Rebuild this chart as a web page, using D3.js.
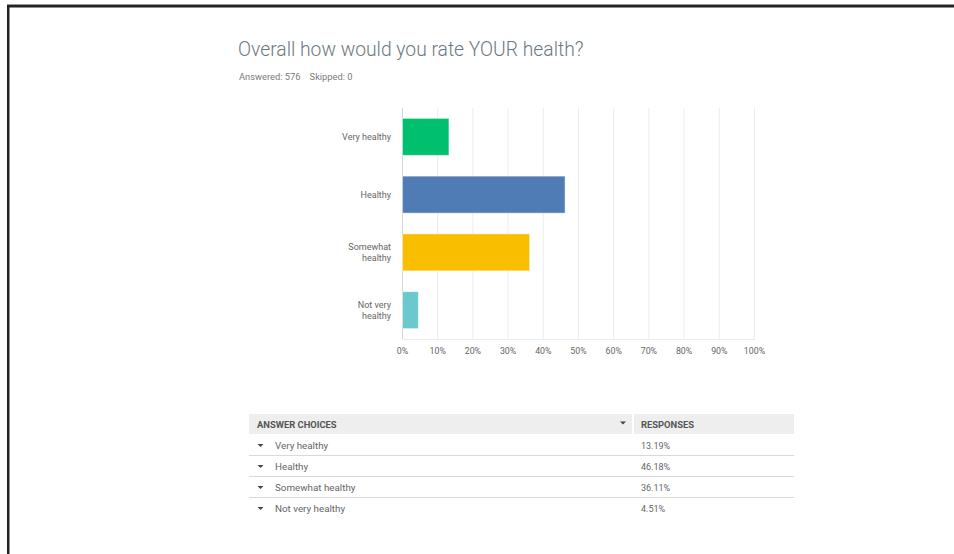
<!DOCTYPE html>
<html>
<head>
<meta charset="utf-8">
<script src="https://cdn.jsdelivr.net/npm/d3@7"></script>
<style>
  html, body { margin: 0; padding: 0; background: #fff; }
  svg { display: block; font-family: Roboto, "Open Sans", sans-serif; }
</style>
</head>
<body>
<svg id="chart" width="954" height="554"></svg>
<script>
// Survey answers and their response shares (%)
const categories = ["Very healthy", "Healthy", "Somewhat healthy", "Not very healthy"];
const axisLabels = [["Very healthy"], ["Healthy"], ["Somewhat", "healthy"], ["Not very", "healthy"]];
const responses = [13.19, 46.18, 36.11, 4.51];
const responseLabels = ["13.19%", "46.18%", "36.11%", "4.51%"];
const barColors = ["#00bf6f", "#507cb6", "#f9be00", "#6bc8cd"];
const ticks = [0, 10, 20, 30, 40, 50, 60, 70, 80, 90, 100];

const svg = d3.select("#chart");

// page frame
svg.append("rect").attr("x", 0).attr("y", 0).attr("width", 954).attr("height", 554).attr("fill", "#fff");
svg.append("rect").attr("x", 7).attr("y", 4).attr("width", 947).attr("height", 1).attr("fill", "#999");
svg.append("rect").attr("x", 7).attr("y", 5).attr("width", 947).attr("height", 2.5).attr("fill", "#222");
svg.append("rect").attr("x", 7).attr("y", 5).attr("width", 2.5).attr("height", 549).attr("fill", "#222");

// heading
svg.append("text").attr("x", 238).attr("y", 56)
  .attr("font-size", 19.3).attr("font-weight", 300).attr("fill", "#6b787f")
  .text("Overall how would you rate YOUR health?");
svg.append("text").attr("x", 239).attr("y", 80)
  .attr("font-size", 9.3).attr("fill", "#7a7a7a")
  .text("Answered: 576\u00a0\u00a0\u00a0\u00a0Skipped: 0");

// chart
const x = d3.scaleLinear().domain([0, 100]).range([402, 754]);
const y = d3.scaleBand().domain(categories).range([108, 339]).paddingInner(0.36).paddingOuter(0.18);

const g = svg.append("g");

// vertical grid lines
g.selectAll("line.grid").data(ticks).join("line")
  .attr("class", "grid")
  .attr("x1", d => x(d) + 0.5).attr("x2", d => x(d) + 0.5)
  .attr("y1", 108).attr("y2", 339)
  .attr("stroke", d => d === 0 ? "#d6d6d6" : "#ececec").attr("stroke-width", 1);
g.append("line").attr("x1", 402).attr("x2", 755).attr("y1", 339.5).attr("y2", 339.5)
  .attr("stroke", "#ececec");

// bars
g.selectAll("rect.bar").data(categories).join("rect")
  .attr("class", "bar")
  .attr("x", x(0) + 0.5)
  .attr("y", d => y(d))
  .attr("width", (d, i) => x(responses[i]) - x(0))
  .attr("height", y.bandwidth())
  .attr("fill", (d, i) => barColors[i])
  .attr("stroke", "#fff").attr("stroke-opacity", 0.45).attr("stroke-width", 1);

// x axis tick labels
const xAxis = d3.axisBottom(x).tickValues(ticks).tickFormat(d => d + "%").tickSize(0).tickPadding(0);
const xa = svg.append("g").attr("transform", "translate(0,348)").call(xAxis);
xa.select(".domain").remove();
xa.selectAll("text").attr("font-size", 8.8).attr("fill", "#666").attr("font-family", "Roboto, sans-serif");

// category labels
const yLab = svg.append("g");
categories.forEach((c, i) => {
  const lines = axisLabels[i];
  const cy = y(c) + y.bandwidth() / 2;
  const t = yLab.append("text").attr("x", 391).attr("text-anchor", "end")
    .attr("font-size", 9).attr("fill", "#666");
  lines.forEach((ln, j) => {
    t.append("tspan").attr("x", 391)
      .attr("y", cy + 3 + (j - (lines.length - 1) / 2) * 11)
      .text(ln);
  });
});

// response table
const tbl = svg.append("g");
tbl.append("rect").attr("x", 249).attr("y", 414).attr("width", 545).attr("height", 20).attr("fill", "#eeeeee");
tbl.append("rect").attr("x", 632).attr("y", 414).attr("width", 2).attr("height", 20).attr("fill", "#fff");
tbl.append("text").attr("x", 257).attr("y", 427.5).attr("font-size", 9.4).attr("font-weight", 700)
  .attr("fill", "#555").text("ANSWER CHOICES");
tbl.append("text").attr("x", 641).attr("y", 427.5).attr("font-size", 9.4).attr("font-weight", 700)
  .attr("fill", "#555").text("RESPONSES");
tbl.append("path").attr("d", "M620,421.5 L626,421.5 L623,424.5 Z").attr("fill", "#444");

const rowY = d3.scaleBand().domain(categories).range([434, 518]);
const rows = tbl.selectAll("g.row").data(categories).join("g")
  .attr("class", "row")
  .attr("transform", d => `translate(0,${rowY(d)})`);
rows.append("path").attr("d", "M257.5,10 L263.5,10 L260.5,13 Z").attr("fill", "#444");
rows.append("text").attr("x", 275).attr("y", 14.5).attr("font-size", 9.8).attr("fill", "#666").text(d => d);
rows.append("text").attr("x", 641).attr("y", 14.5).attr("font-size", 9).attr("fill", "#666")
  .text((d, i) => responseLabels[i]);
rows.filter((d, i) => i < categories.length - 1).append("line")
  .attr("x1", 249).attr("x2", 794).attr("y1", 21.5).attr("y2", 21.5)
  .attr("stroke", "#d9d9d9");
</script>
</body>
</html>
